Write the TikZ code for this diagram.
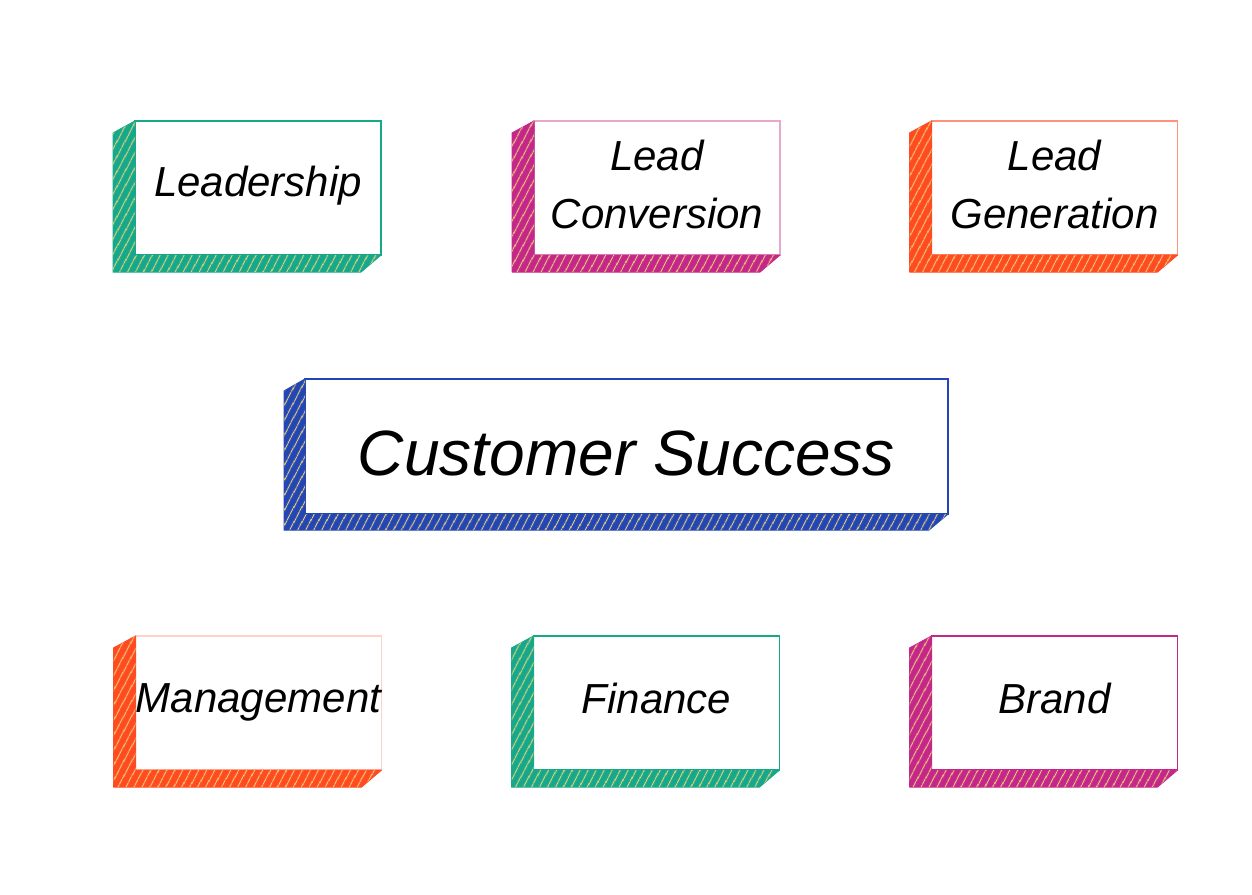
\documentclass[tikz,border=0pt]{standalone}
\usepackage{fontspec}
\setmainfont{Liberation Sans}
\usetikzlibrary{calc,patterns.meta}
\definecolor{cteal}{HTML}{17A88C}
\definecolor{cmag}{HTML}{C4268A}
\definecolor{corange}{HTML}{FF4A22}
\definecolor{cblue}{HTML}{2446B4}
\definecolor{chatch}{HTML}{E9CF5C}
\newcommand{\shiftup}[2]{\raisebox{#1}[\height][\depth]{#2}}
\tikzset{
  face/.style={draw=#1, line width=1.2pt, fill=white, minimum width=246pt, minimum height=134pt,
    inner sep=0pt, outer sep=0pt, align=center, font=\itshape\fontsize{42}{58}\selectfont},
  bigface/.style={face=#1, minimum width=643pt, minimum height=135pt, font=\itshape\fontsize{64}{70}\selectfont},
  shade3d/.style={fill=#1, draw=#1, line width=1pt, line join=round,
    postaction={pattern={Lines[angle=62, distance=6.5pt, line width=1.2pt]}, pattern color=chatch!85!white}}
}
\newcommand{\extrude}[4]{% node, color, dx, dy
  \path[shade3d=#2] (#1.north west) -- ++(-#3,12) -- ($(#1.south west)+(-#3,#4)$)
    -- ($(#1.south east)+(-#3+2,#4)$) -- (#1.south east) -- (#1.south west) -- cycle;}
\begin{document}
\begin{tikzpicture}[x=1pt,y=-1pt]
\useasboundingbox (0,0) rectangle (1252,894);
\node[face=cteal] (lead) at (258,188) {\shiftup{2pt}{Leadership}};
\node[face=cmag!40] (conv) at (657,188) {\begin{tabular}{@{}c@{}}Lead\\Conversion\end{tabular}};
\node[face=corange!60] (gen) at (1054.5,188) {\begin{tabular}{@{}c@{}}Lead\\Generation\end{tabular}};
\node[bigface=cblue] (cs) at (626.5,446.5) {\shiftup{-7pt}{Customer Success}};
\node[face=corange!25] (mgmt) at (258.5,703) {\shiftup{1pt}{Management}};
\node[face=cteal] (fin) at (656.5,703) {\shiftup{5pt}{Finance}};
\node[face=cmag] (brand) at (1054.5,703) {\shiftup{5pt}{Brand}};
\extrude{lead}{cteal}{22}{17}
\extrude{conv}{cmag}{22}{17}
\extrude{gen}{corange}{22}{17}
\extrude{cs}{cblue}{21}{16}
\extrude{mgmt}{corange}{22}{17}
\extrude{fin}{cteal}{22}{17}
\extrude{brand}{cmag}{22}{17}
\end{tikzpicture}
\end{document}
